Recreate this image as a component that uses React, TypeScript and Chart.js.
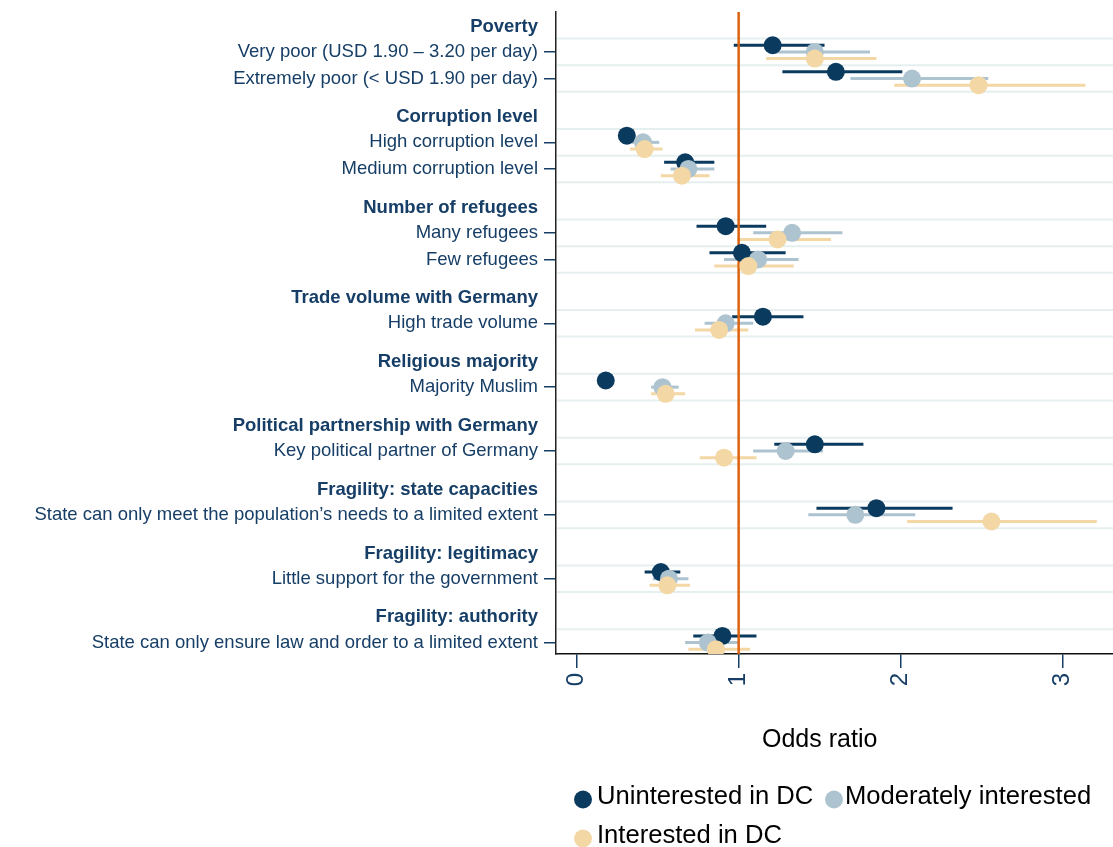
import React, { useEffect, useRef } from 'react';
import { Chart, registerables } from 'chart.js';

Chart.register(...registerables);

// ---------- data ----------
const groupHeaders = [
  'Poverty',
  'Corruption level',
  'Number of refugees',
  'Trade volume with Germany',
  'Religious majority',
  'Political partnership with Germany',
  'Fragility: state capacities',
  'Fragility: legitimacy',
  'Fragility: authority',
];
const groupSizes = [2, 2, 2, 1, 1, 1, 1, 1, 1];
const itemLabels = [
  'Very poor (USD 1.90 \u2013 3.20 per day)',
  'Extremely poor (< USD 1.90 per day)',
  'High corruption level',
  'Medium corruption level',
  'Many refugees',
  'Few refugees',
  'High trade volume',
  'Majority Muslim',
  'Key political partner of Germany',
  'State can only meet the population\u2019s needs to a limited extent',
  'Little support for the government',
  'State can only ensure law and order to a limited extent',
];

const seriesNames = ['Uninterested in DC', 'Moderately interested', 'Interested in DC'];

const uninterestedOR = [1.21, 1.6, 0.31, 0.67, 0.92, 1.02, 1.15, 0.18, 1.47, 1.85, 0.52, 0.9];
const uninterestedLo = [0.97, 1.27, 0.27, 0.54, 0.74, 0.82, 0.96, 0.15, 1.22, 1.48, 0.42, 0.72];
const uninterestedHi = [1.53, 2.01, 0.35, 0.85, 1.17, 1.29, 1.4, 0.2, 1.77, 2.32, 0.64, 1.11];

const moderateOR = [1.47, 2.07, 0.41, 0.69, 1.33, 1.12, 0.92, 0.53, 1.29, 1.72, 0.57, 0.81];
const moderateLo = [1.2, 1.69, 0.34, 0.58, 1.09, 0.91, 0.79, 0.46, 1.09, 1.43, 0.47, 0.67];
const moderateHi = [1.81, 2.54, 0.51, 0.85, 1.64, 1.37, 1.09, 0.63, 1.52, 2.09, 0.69, 1.0];

const interestedOR = [1.47, 2.48, 0.42, 0.65, 1.24, 1.06, 0.88, 0.55, 0.91, 2.56, 0.56, 0.86];
const interestedLo = [1.17, 1.96, 0.33, 0.52, 0.99, 0.85, 0.73, 0.46, 0.76, 2.04, 0.45, 0.69];
const interestedHi = [1.85, 3.14, 0.53, 0.82, 1.57, 1.34, 1.06, 0.67, 1.11, 3.21, 0.7, 1.07];

const xTicks = [0, 1, 2, 3];
const referenceValue = 1;

// ---------- styling ----------
const FONT = '"Liberation Sans", Arial, Helvetica, sans-serif';
const NAVY = '#163e66';
const COLORS = ['#0b3a5f', '#adc3cf', '#f3d7a4'];
const GRID = '#e6efef';
const REF = '#dd6210';
const OFFSETS = [-0.25, 0, 0.25];

// layout positions on the category axis
const itemPos: number[] = [];
const headerPos: number[] = [];
{
  let p = 0;
  groupSizes.forEach((n, g) => {
    if (g > 0) p += 2.4;
    headerPos.push(p - 0.95);
    for (let k = 0; k < n; k++) {
      itemPos.push(p);
      if (k < n - 1) p += 1;
    }
  });
}
const gridPos: number[] = [];
itemPos.forEach((p) => {
  [p - 0.5, p + 0.5].forEach((g) => {
    if (!gridPos.some((q) => Math.abs(q - g) < 1e-6)) gridPos.push(g);
  });
});

const series = [
  { name: seriesNames[0], or: uninterestedOR, lo: uninterestedLo, hi: uninterestedHi, color: COLORS[0] },
  { name: seriesNames[1], or: moderateOR, lo: moderateLo, hi: moderateHi, color: COLORS[1] },
  { name: seriesNames[2], or: interestedOR, lo: interestedLo, hi: interestedHi, color: COLORS[2] },
];

const decorPlugin = {
  id: 'decor',
  beforeDatasetsDraw(chart: any) {
    const { ctx, chartArea } = chart;
    const xs = chart.scales.x;
    const ys = chart.scales.y;
    ctx.save();
    ctx.beginPath();
    ctx.rect(chartArea.left, chartArea.top, chartArea.right - chartArea.left, chartArea.bottom - chartArea.top);
    ctx.clip();
    // horizontal grid lines between items
    ctx.strokeStyle = GRID;
    ctx.lineWidth = 2;
    gridPos.forEach((g) => {
      const y = ys.getPixelForValue(g);
      ctx.beginPath();
      ctx.moveTo(chartArea.left + 1, y);
      ctx.lineTo(chartArea.right, y);
      ctx.stroke();
    });
    // confidence intervals
    ctx.lineWidth = 3;
    series.forEach((s, si) => {
      ctx.strokeStyle = s.color;
      s.lo.forEach((lo, i) => {
        const y = ys.getPixelForValue(itemPos[i] + OFFSETS[si]);
        ctx.beginPath();
        ctx.moveTo(xs.getPixelForValue(lo), y);
        ctx.lineTo(xs.getPixelForValue(s.hi[i]), y);
        ctx.stroke();
      });
    });
    // reference line
    const rx = xs.getPixelForValue(referenceValue);
    ctx.strokeStyle = REF;
    ctx.lineWidth = 2.5;
    ctx.beginPath();
    ctx.moveTo(rx, chartArea.top);
    ctx.lineTo(rx, chartArea.bottom);
    ctx.stroke();
    ctx.restore();
  },
  afterDraw(chart: any) {
    const { ctx } = chart;
    const xs = chart.scales.x;
    const ys = chart.scales.y;
    ctx.save();
    // group headers
    ctx.fillStyle = NAVY;
    ctx.font = `bold 18.5px ${FONT}`;
    ctx.textAlign = 'right';
    ctx.textBaseline = 'middle';
    groupHeaders.forEach((h, g) => {
      ctx.fillText(h, 538, ys.getPixelForValue(headerPos[g]));
    });
    // axis title
    ctx.fillStyle = '#000';
    ctx.font = `25px ${FONT}`;
    ctx.textAlign = 'center';
    ctx.textBaseline = 'alphabetic';
    ctx.fillText('Odds ratio', xs.getPixelForValue(1.5), 747);
    // legend
    const items = [
      { x: 583, y: 799.5, tx: 597, ty: 804 },
      { x: 834, y: 799.5, tx: 845, ty: 804 },
      { x: 583, y: 838.5, tx: 597, ty: 843 },
    ];
    ctx.font = `25.6px ${FONT}`;
    ctx.textAlign = 'left';
    series.forEach((s, i) => {
      const it = items[i];
      ctx.fillStyle = s.color;
      ctx.beginPath();
      ctx.arc(it.x, it.y, 9, 0, Math.PI * 2);
      ctx.fill();
      ctx.fillStyle = '#000';
      ctx.fillText(s.name, it.tx, it.ty);
    });
    ctx.restore();
  },
};

export default function App() {
  const ref = useRef<HTMLCanvasElement | null>(null);
  useEffect(() => {
    if (!ref.current) return;
    const datasets = series.map((s, si) => ({
      label: s.name,
      data: s.or.map((v, i) => ({ x: v, y: itemPos[i] + OFFSETS[si] })),
      backgroundColor: s.color,
      borderColor: s.color,
      pointRadius: 9,
      pointBorderWidth: 0,
      pointHoverRadius: 9,
      order: 3 - si,
    }));
    const chart = new Chart(ref.current, {
      type: 'scatter',
      data: { datasets },
      plugins: [decorPlugin],
      options: {
        responsive: false,
        animation: false,
        events: [],
        layout: { autoPadding: false, padding: { top: 12, left: 0, right: 0, bottom: 0 } },
        plugins: { legend: { display: false }, tooltip: { enabled: false } },
        scales: {
          x: {
            type: 'linear',
            min: -0.127,
            max: 3.31,
            afterBuildTicks: (scale: any) => {
              scale.ticks = xTicks.map((v) => ({ value: v }));
            },
            afterFit: (scale: any) => {
              scale.height = 193;
              scale.paddingLeft = 0;
              scale.paddingRight = 0;
            },
            ticks: {
              autoSkip: false,
              minRotation: 90,
              maxRotation: 90,
              padding: 5,
              color: NAVY,
              font: { size: 24, family: FONT },
              callback: (v: any) => String(v),
            },
            grid: { drawOnChartArea: false, tickLength: 14, color: NAVY, lineWidth: 1.5 },
            border: { display: true, color: '#111', width: 1.5 },
          },
          y: {
            type: 'linear',
            reverse: true,
            min: -1.5,
            max: 22.63,
            afterBuildTicks: (scale: any) => {
              scale.ticks = itemPos.map((v) => ({ value: v }));
            },
            afterFit: (scale: any) => {
              scale.width = 556;
              scale.paddingTop = 0;
              scale.paddingBottom = 0;
            },
            ticks: {
              autoSkip: false,
              padding: 6,
              color: NAVY,
              font: { size: 18.5, family: FONT },
              callback: (v: any) => {
                const idx = itemPos.findIndex((p) => Math.abs(p - Number(v)) < 1e-6);
                return idx >= 0 ? itemLabels[idx] : '';
              },
            },
            grid: { drawOnChartArea: false, tickLength: 12, color: NAVY, lineWidth: 1.5 },
            border: { display: true, color: '#222', width: 1.5 },
          },
        },
      } as any,
    });
    return () => chart.destroy();
  }, []);
  return (
    <div style={{ position: 'absolute', left: 0, top: 0, width: 1113, height: 847, background: '#fff' }}>
      <canvas ref={ref} width={1113} height={847} style={{ display: 'block' }} />
    </div>
  );
}
